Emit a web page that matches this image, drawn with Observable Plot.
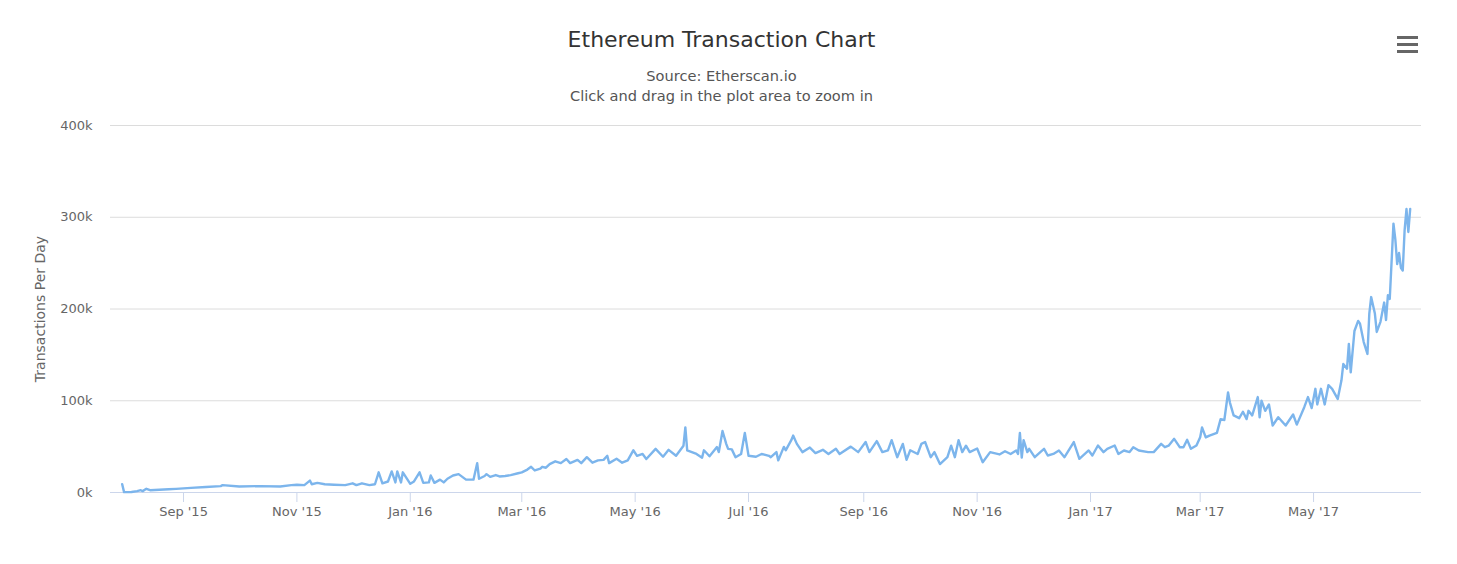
<!DOCTYPE html>
<html>
<head>
<meta charset="utf-8">
<script src="https://cdn.jsdelivr.net/npm/d3@7"></script>
<script src="https://cdn.jsdelivr.net/npm/@observablehq/plot@0.6"></script>
<style>
  body { margin: 0; background: #fff; }
  #wrap { width: 1457px; height: 564px; position: relative; font-family: "DejaVu Sans", sans-serif; }
  #head { position: relative; width: 1457px; height: 110px; }
  #title { position: absolute; left: 0; width: 1443px; top: 26px; text-align: center; font-size: 22px; line-height: 28px; color: #333; }
  #sub { position: absolute; left: 0; width: 1443px; top: 66px; text-align: center; font-size: 14.6px; line-height: 20px; color: #555; }
  #menu { position: absolute; left: 1397px; top: 36px; width: 21px; }
  #menu div { height: 3px; background: #666; margin-bottom: 4px; }
  g[aria-label="x-axis tick"] { stroke: #ccd6eb; }
</style>
</head>
<body>
<div id="wrap">
  <div id="head">
    <div id="title">Ethereum Transaction Chart</div>
    <div id="sub">Source: Etherscan.io<br>Click and drag in the plot area to zoom in</div>
    <div id="menu"><div></div><div></div><div></div></div>
  </div>
  <div id="chart"></div>
</div>
<script>
// Daily transaction counts (estimated)
const dates = [
  "2015-07-30","2015-07-31","2015-08-04","2015-08-07","2015-08-09","2015-08-10","2015-08-12","2015-08-14","2015-08-19","2015-08-24","2015-08-28",
  "2015-09-05","2015-09-13","2015-09-21","2015-09-22","2015-10-01","2015-10-12","2015-10-23","2015-10-29",
  "2015-11-01","2015-11-05","2015-11-08","2015-11-09","2015-11-12","2015-11-16","2015-11-21","2015-11-27",
  "2015-12-01","2015-12-03","2015-12-06","2015-12-10","2015-12-13","2015-12-15","2015-12-17","2015-12-20","2015-12-22","2015-12-24","2015-12-25","2015-12-27","2015-12-28",
  "2016-01-01","2016-01-03","2016-01-06","2016-01-08","2016-01-11","2016-01-12","2016-01-14","2016-01-17","2016-01-19","2016-01-21","2016-01-24","2016-01-27","2016-01-31",
  "2016-02-04","2016-02-06","2016-02-07","2016-02-10","2016-02-11","2016-02-13","2016-02-16","2016-02-18","2016-02-21","2016-02-24","2016-02-28",
  "2016-03-01","2016-03-04","2016-03-06","2016-03-08","2016-03-11","2016-03-12","2016-03-14","2016-03-16","2016-03-19","2016-03-22","2016-03-25","2016-03-27","2016-03-31",
  "2016-04-02","2016-04-05","2016-04-08","2016-04-11","2016-04-14","2016-04-16","2016-04-17","2016-04-21","2016-04-24","2016-04-27","2016-04-30",
  "2016-05-02","2016-05-05","2016-05-07","2016-05-12","2016-05-16","2016-05-19","2016-05-23","2016-05-27","2016-05-28","2016-05-29",
  "2016-06-03","2016-06-06","2016-06-07","2016-06-10","2016-06-14","2016-06-15","2016-06-17","2016-06-19","2016-06-20","2016-06-22","2016-06-24","2016-06-27","2016-06-29",
  "2016-07-01","2016-07-05","2016-07-08","2016-07-12","2016-07-13","2016-07-16","2016-07-17","2016-07-20","2016-07-21","2016-07-24","2016-07-25","2016-07-27","2016-07-30",
  "2016-08-03","2016-08-06","2016-08-10","2016-08-13","2016-08-17","2016-08-19","2016-08-25","2016-08-29",
  "2016-09-02","2016-09-04","2016-09-08","2016-09-11","2016-09-14","2016-09-16","2016-09-19","2016-09-22","2016-09-24","2016-09-26","2016-09-30",
  "2016-10-02","2016-10-04","2016-10-07","2016-10-09","2016-10-12","2016-10-16","2016-10-18","2016-10-20","2016-10-22","2016-10-24","2016-10-26","2016-10-28",
  "2016-11-01","2016-11-04","2016-11-08","2016-11-13","2016-11-16","2016-11-19","2016-11-22","2016-11-23","2016-11-24","2016-11-25","2016-11-26","2016-11-28","2016-11-29",
  "2016-12-02","2016-12-05","2016-12-07","2016-12-09","2016-12-12","2016-12-15","2016-12-18","2016-12-23","2016-12-26","2016-12-31",
  "2017-01-02","2017-01-05","2017-01-08","2017-01-10","2017-01-14","2017-01-16","2017-01-19","2017-01-22","2017-01-24","2017-01-27",
  "2017-02-01","2017-02-04","2017-02-08","2017-02-10","2017-02-12","2017-02-15","2017-02-18","2017-02-20","2017-02-22","2017-02-24","2017-02-27",
  "2017-03-01","2017-03-02","2017-03-04","2017-03-06","2017-03-10","2017-03-12","2017-03-14","2017-03-16","2017-03-17","2017-03-19","2017-03-22","2017-03-24","2017-03-26","2017-03-27","2017-03-29",
  "2017-04-01","2017-04-02","2017-04-03","2017-04-05","2017-04-07","2017-04-09","2017-04-12","2017-04-16","2017-04-20","2017-04-22","2017-04-26","2017-04-28","2017-04-30",
  "2017-05-02","2017-05-03","2017-05-05","2017-05-07","2017-05-09","2017-05-11","2017-05-14","2017-05-16","2017-05-17","2017-05-19","2017-05-20","2017-05-21","2017-05-23","2017-05-25","2017-05-26","2017-05-28","2017-05-30","2017-05-31",
  "2017-06-01","2017-06-03","2017-06-04","2017-06-06","2017-06-08","2017-06-09","2017-06-10","2017-06-11","2017-06-13","2017-06-14","2017-06-15","2017-06-16","2017-06-17","2017-06-18","2017-06-19","2017-06-20","2017-06-21","2017-06-22"
];
const transactions = [
  9000,400,500,1500,2500,1500,4000,2500,3000,3500,4000,
  5000,6000,7000,8000,6500,7000,6500,8000,
  8500,8000,13000,9000,10500,9000,8500,8000,
  10000,8000,10000,8000,9000,22000,10000,12000,23000,11000,23000,11000,22000,
  9500,12000,22000,10500,11000,18500,10500,14000,11000,15000,18500,20000,14000,
  14000,32000,15000,18000,20000,17000,19000,17500,18000,19000,21000,
  22000,25000,28000,24000,26000,28000,27000,31000,34000,32000,36500,32000,35500,
  32000,38500,32500,35000,35600,40000,32000,36700,32500,35000,46000,
  40000,42000,36500,47600,39000,46500,40000,51000,71000,46000,
  42000,38000,46000,39500,49500,44000,67000,53000,47600,47000,38500,42000,65000,
  40000,39000,42000,40000,38500,44000,35000,49700,46000,57000,62000,53000,44000,
  49000,43000,46500,42000,47600,42000,50000,44000,
  55000,44000,56000,44000,46000,57000,38500,53000,35600,46000,42000,
  53000,55000,38500,44000,31000,38500,51000,38500,57000,44000,51000,44000,
  48000,33000,44000,41500,45000,42000,45800,42000,65000,38000,57000,44000,47600,
  38500,44000,47600,40300,42000,45800,38500,55000,36700,45800,
  40300,51200,44000,47600,51200,42000,45800,44000,49400,45800,
  44000,44000,53000,49400,51000,58500,49400,49400,57400,47600,51200,
  60300,71000,60000,62000,65000,80000,79000,109000,98000,84000,81000,88000,80000,89000,84000,
  104000,82000,100000,89000,96000,73000,82000,73000,85000,74000,93000,104000,92000,
  113000,96000,113000,96000,117000,113000,102000,122000,140000,135000,162000,131000,176000,187000,184000,164000,151000,195000,
  213000,195000,175000,186000,207000,188000,215000,211000,293000,276000,249000,261000,245000,242000,286000,309000,284000,309000
];
const yTicks = [0, 100000, 200000, 300000, 400000];
const xTickDates = ["2015-09-01","2015-11-01","2016-01-01","2016-03-01","2016-05-01","2016-07-01","2016-09-01","2016-11-01","2017-01-01","2017-03-01","2017-05-01"];
const xTickLabels = ["Sep '15","Nov '15","Jan '16","Mar '16","May '16","Jul '16","Sep '16","Nov '16","Jan '17","Mar '17","May '17"];
const yAxisTitle = "Transactions Per Day";

const data = dates.map((d, i) => ({date: new Date(d + "T00:00:00Z"), value: transactions[i]}));
const xTicks = xTickDates.map(d => new Date(d + "T00:00:00Z"));

const chart = Plot.plot({
  width: 1457,
  height: 454,
  marginLeft: 110,
  marginRight: 36,
  marginTop: 15,
  marginBottom: 72,
  style: {fontFamily: "'DejaVu Sans', sans-serif", background: "#fff", color: "#666"},
  x: {type: "utc", domain: [new Date("2015-07-23T17:00:00Z"), new Date("2017-06-28T02:00:00Z")]},
  y: {domain: [0, 400000]},
  marks: [
    Plot.gridY(yTicks.slice(1), {stroke: "#dcdcdc", strokeOpacity: 1}),
    Plot.axisY(yTicks, {tickSize: 0, tickPadding: 18, tickFormat: d => `${d / 1000}k`, fontSize: 13, color: "#666", label: null}),
    Plot.axisX(xTicks, {tickSize: 10, tickPadding: 4, tickFormat: (d, i) => xTickLabels[i], fontSize: 13, color: "#666", label: null}),
    Plot.ruleY([0], {stroke: "#ccd6eb"}),
    Plot.text([yAxisTitle], {frameAnchor: "left", textAnchor: "middle", dx: -70, rotate: -90, text: d => d, fontSize: 14, fill: "#666"}),
    Plot.line(data, {x: "date", y: "value", stroke: "#7cb5ec", strokeWidth: 2.4, strokeLinejoin: "round"})
  ]
});
document.getElementById("chart").appendChild(chart);
</script>
</body>
</html>
